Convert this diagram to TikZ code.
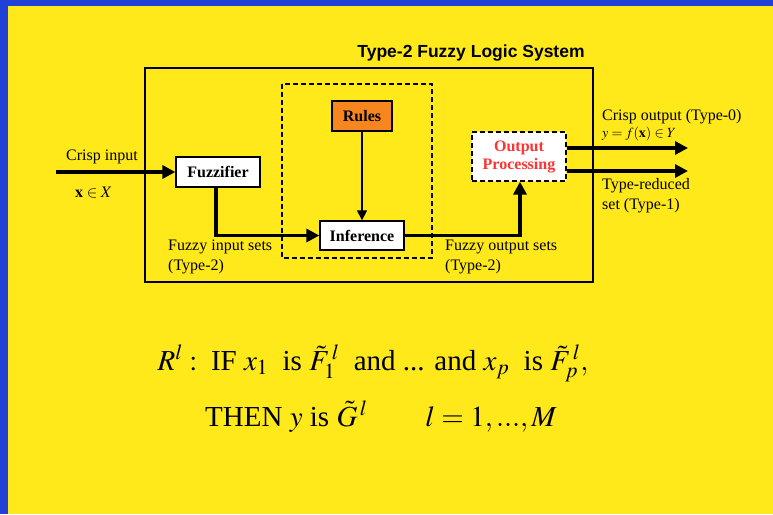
\documentclass[tikz,border=0pt]{standalone}
\usepackage{mathptmx}
\usepackage{fontspec}
\setmainfont{Liberation Serif}
\newfontfamily\headfont{Liberation Sans}
\usetikzlibrary{positioning,arrows.meta}
\definecolor{slideyellow}{RGB}{255,233,26}
\definecolor{slideblue}{RGB}{33,64,216}
\definecolor{rulesorange}{RGB}{247,134,31}
\definecolor{procred}{RGB}{255,51,51}

\begin{document}
\begin{tikzpicture}[x=1pt,y=-1pt,
    block/.style={draw,line width=1.3pt,fill=white,inner sep=0pt,
        font=\fontsize{16}{19}\selectfont\bfseries},
    lbl/.style={font=\fontsize{16}{20}\selectfont,anchor=base west,inner sep=0pt,align=left},
    flow/.style={line width=3.2pt,-{Triangle[length=13pt,width=13pt]}},
    thinflow/.style={line width=1.1pt,-{Triangle[length=10pt,width=10pt]}},
    dashbox/.style={dash pattern=on 5pt off 3pt}]
    % background of the slide
    \fill[slideblue] (0,0) rectangle (773,514);
    \fill[slideyellow] (8,6) rectangle (773,514);
    \useasboundingbox (0,0) rectangle (773,514);
    \node[font=\headfont\bfseries\fontsize{17.5}{20}\selectfont] (title) at (471,53) {Type-2 Fuzzy Logic System};
    \draw[line width=1.3pt] (145,68) rectangle (593,282);
    \draw[line width=1.2pt,dashbox] (282,84) rectangle (432,258);
    % blocks
    \node[block,minimum width=84pt,minimum height=30pt] (fuzz) at (218,172) {Fuzzifier};
    \node[block,fill=rulesorange,minimum width=60pt,minimum height=30pt] (rules) at (362,116) {Rules};
    \node[block,minimum width=84pt,minimum height=29pt] (inf) at (362,235.5) {Inference};
    \node[block,dashbox,text=procred,align=center,minimum width=94pt,minimum height=49pt,
        font=\fontsize{16}{18}\selectfont\bfseries] (proc) at (519,156.5) {Output\\Processing};
    % connectors
    \coordinate (xin) at (56,172);
    \coordinate (crisp) at (688,148);
    \coordinate (reduced) at (688,171);
    \draw[flow] (xin) -- (fuzz.west);
    \draw[flow] ([xshift=-2pt]fuzz.south) |- (inf.west);
    \draw[thinflow] (rules) -- (inf);
    \draw[flow] (inf.east) -| ([xshift=1pt]proc.south);
    \draw[flow] (proc.east |- crisp) -- (crisp);
    \draw[flow] (proc.east |- reduced) -- (reduced);
    % labels
    \node[lbl] (lin) at (66,160) {Crisp input};
    \node[lbl] (lx) at (75,197) {$\mathbf{x}\in X$};
    \node[lbl] (lfin) at (168,270) {Fuzzy input sets\\(Type-2)};
    \node[lbl] (lfout) at (445,270) {Fuzzy output sets\\(Type-2)};
    \node[lbl] (lcrisp) at (602,120) {Crisp output (Type-0)};
    \node[lbl,font=\fontsize{14}{16}\selectfont] (ly) at (602,137) {$y=f(\mathbf{x})\in Y$};
    \node[lbl] (lred) at (602,209) {Type-reduced\\set (Type-1)};
    % rule formula
    \node[font=\fontsize{29}{33}\selectfont,anchor=base] (rule1) at (373,370)
        {$R^l:\ \mbox{IF}\ x_1\ \ \mbox{is}\ \tilde{F}_1^{\,l}\ \ \mbox{and ... and}\ x_p\ \ \mbox{is}\ \tilde{F}_p^{\,l},$};
    \node[font=\fontsize{29}{33}\selectfont,anchor=base] (rule2) at (381,426)
        {$\mbox{THEN}\ y\ \mbox{is}\ \tilde{G}^{\,l}\qquad l=1,...,M$};
\end{tikzpicture}
\end{document}
